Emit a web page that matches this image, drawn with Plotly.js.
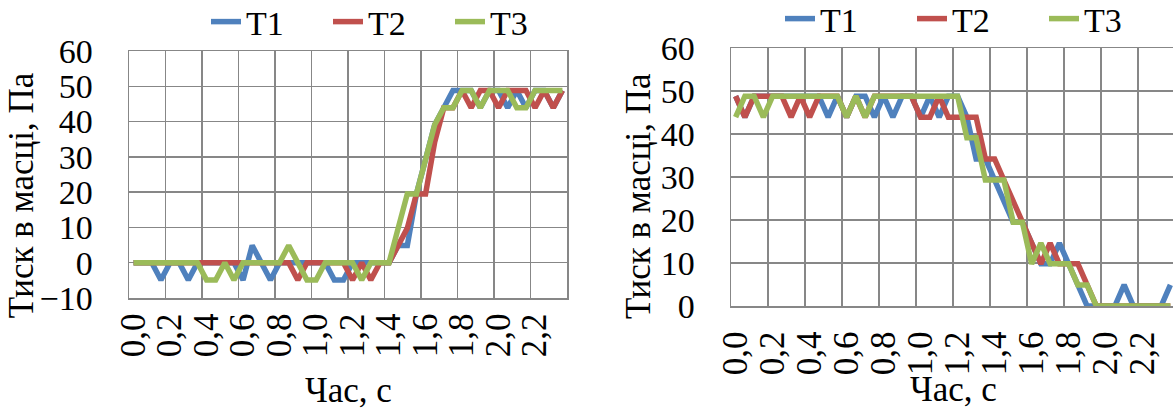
<!DOCTYPE html>
<html><head><meta charset="utf-8">
<script src="https://cdn.plot.ly/plotly-3.0.1.min.js"></script>
<style>
html,body{margin:0;padding:0;background:#fff;overflow:hidden;width:1173px;height:412px;}
#wrap{position:relative;width:1190px;height:412px;}
#c1{position:absolute;left:0;top:0;width:586px;height:412px;}
#c2{position:absolute;left:586px;top:0;width:600px;height:412px;}
</style></head>
<body><div id="wrap"><div id="c1"></div><div id="c2"></div></div>
<script>
// time categories, s
const time = [0,0.05,0.1,0.15,0.2,0.25,0.3,0.35,0.4,0.45,0.5,0.55,0.6,0.65,0.7,0.75,
0.8,0.85,0.9,0.95,1.0,1.05,1.1,1.15,1.2,1.25,1.3,1.35,1.4,1.45,1.5,1.55,
1.6,1.65,1.7,1.75,1.8,1.85,1.9,1.95,2.0,2.05,2.1,2.15,2.2,2.25,2.3,2.35];
const tickVals = [0,0.2,0.4,0.6,0.8,1.0,1.2,1.4,1.6,1.8,2.0,2.2];
const tickText = ["0,0","0,2","0,4","0,6","0,8","1,0","1,2","1,4","1,6","1,8","2,0","2,2"];
const seriesNames = ["T1","T2","T3"];
const xTitle = "Час, с";
const yTitle = "Тиск в масці, Па";

// left chart (pressure rise), Pa
const t1L = [0,0,0,-4.9,0,0,-4.9,0, 0,0,0,0,-4.9,4.9,0,-4.9, 0,0,0,0,0,0,-4.9,-4.9,
0,0,0,0,0,4.9,4.9,19.5, 29.3,39.1,43.9,48.8,48.8,48.8,43.9,48.8, 48.8,43.9,48.8,43.9,48.8,48.8,43.9,48.8];
const t2L = [0,0,0,0,0,0,0,0, 0,0,0,0,0,0,0,0, 0,0,-4.9,0,0,0,0,0,
-4.9,0,-4.9,0,0,4.9,9.8,19.5, 19.5,34.2,43.9,43.9,48.8,43.9,48.8,48.8, 43.9,48.8,48.8,48.8,43.9,48.8,43.9,48.8];
const t3L = [0,0,0,0,0,0,0,0, -4.9,-4.9,0,-4.9,0,0,0,0, 0,4.9,0,-4.9,-4.9,0,0,0,
0,-4.9,0,0,0,9.8,19.5,19.5, 29.3,39.1,43.9,43.9,48.8,48.8,43.9,48.8, 48.8,48.8,43.9,43.9,48.8,48.8,48.8,48.8];

// right chart (pressure fall), Pa
const t1R = [48.8,43.9,48.8,48.8,48.8,48.8,48.8,48.8, 48.8,48.8,43.9,48.8,43.9,48.8,48.8,43.9,
48.8,43.9,48.8,48.8,43.9,48.8,43.9,48.8, 48.8,43.9,34.2,34.2,29.3,24.4,19.5,19.5,
14.6,9.8,9.8,14.6,9.8,4.9,0,0, 0,0,4.9,0,0,0,0,4.9];
const t2R = [48.8,43.9,48.8,48.8,48.8,48.8,43.9,48.8, 43.9,48.8,48.8,48.8,43.9,48.8,43.9,48.8,
48.8,48.8,48.8,48.8,43.9,43.9,48.8,43.9, 43.9,43.9,43.9,34.2,34.2,29.3,24.4,19.5,
14.6,9.8,14.6,9.8,9.8,9.8,4.9,0, 0,0,0,0,0,0,0,0];
const t3R = [43.9,48.8,48.8,43.9,48.8,48.8,48.8,48.8, 48.8,48.8,48.8,48.8,43.9,48.8,43.9,48.8,
48.8,48.8,48.8,48.8,48.8,48.8,48.8,48.8, 48.8,39.1,39.1,29.3,29.3,29.3,19.5,19.5,
9.8,14.6,9.8,9.8,9.8,4.9,4.9,0, 0,0,0,0,0,0,0,0];

const colors = ["#4F81BD","#C0504D","#9BBB59"];
const FONT = "'Liberation Serif', 'Times New Roman', Times, serif";
const GRID = "#878787";

function traces(arrs){
  return arrs.map((y,k)=>({x:time,y:y,type:"scatter",mode:"lines",name:seriesNames[k],
    line:{color:colors[k],width:5.5,shape:"linear"}}));
}
function layout(opt){
  const pw = opt.w-opt.l-opt.r, ph = 412-opt.t-opt.b;
  return {
    width:opt.w,height:412,
    margin:{l:opt.l,r:opt.r,t:opt.t,b:opt.b},
    paper_bgcolor:"#fff",plot_bgcolor:"#fff",
    font:{family:FONT,color:"#000",size:34},
    showlegend:true,
    legend:{orientation:"h",xref:"container",yref:"container",x:opt.lx,y:1-opt.ly/412,
      xanchor:"left",yanchor:"middle",font:{size:34,family:FONT,color:"#000"},entrywidth:opt.ew,
      bgcolor:"rgba(0,0,0,0)",itemwidth:30},
    xaxis:{range:[-0.025,2.375],tickmode:"array",tickvals:tickVals,ticktext:tickText,
      tickangle:-90,showgrid:false,zeroline:false,ticks:"",ticklabelstandoff:opt.xts,
      showline:true,mirror:true,linecolor:GRID,linewidth:1.5,
      tickfont:{size:35,family:FONT,color:"#000"},
      minor:{tickmode:"linear",tick0:-0.025,dtick:0.2,showgrid:true,gridcolor:GRID,gridwidth:1.5,ticks:""}},
    yaxis:{range:opt.yr,tickmode:"linear",tick0:opt.yr[0],dtick:10,showgrid:true,gridcolor:GRID,gridwidth:1.5,
      zeroline:false,showline:true,mirror:true,linecolor:GRID,linewidth:1.5,ticks:"",
      ticklabelstandoff:28,tickfont:{size:34,family:FONT,color:"#000"}},
    annotations:[
      {text:yTitle,textangle:-90,xref:"paper",yref:"paper",
       x:(opt.tx-opt.l)/pw,y:1-(opt.ty-opt.t)/ph,
       xanchor:"center",yanchor:"middle",showarrow:false,
       font:{size:35,family:FONT,color:"#000"}},
      {text:xTitle,xref:"paper",yref:"paper",x:0.5,y:-(opt.xy-(412-opt.b))/ph,
       xanchor:"center",yanchor:"middle",showarrow:false,
       font:{size:35,family:FONT,color:"#000"}}]
  };
}
Plotly.newPlot("c1",traces([t1L,t2L,t3L]),
  layout({w:586,l:129,r:19,t:43,b:114,yr:[-10,60],lx:206/586,ly:22,ew:77,xts:0,tx:21,ty:192,xy:393}),
  {staticPlot:true,displayModeBar:false});
Plotly.newPlot("c2",traces([t1R,t2R,t3R]),
  layout({w:600,l:145,r:11,t:41,b:106,yr:[0,60],lx:194/600,ly:19,ew:87,xts:10,tx:53,ty:193,xy:392}),
  {staticPlot:true,displayModeBar:false});
</script></body></html>
